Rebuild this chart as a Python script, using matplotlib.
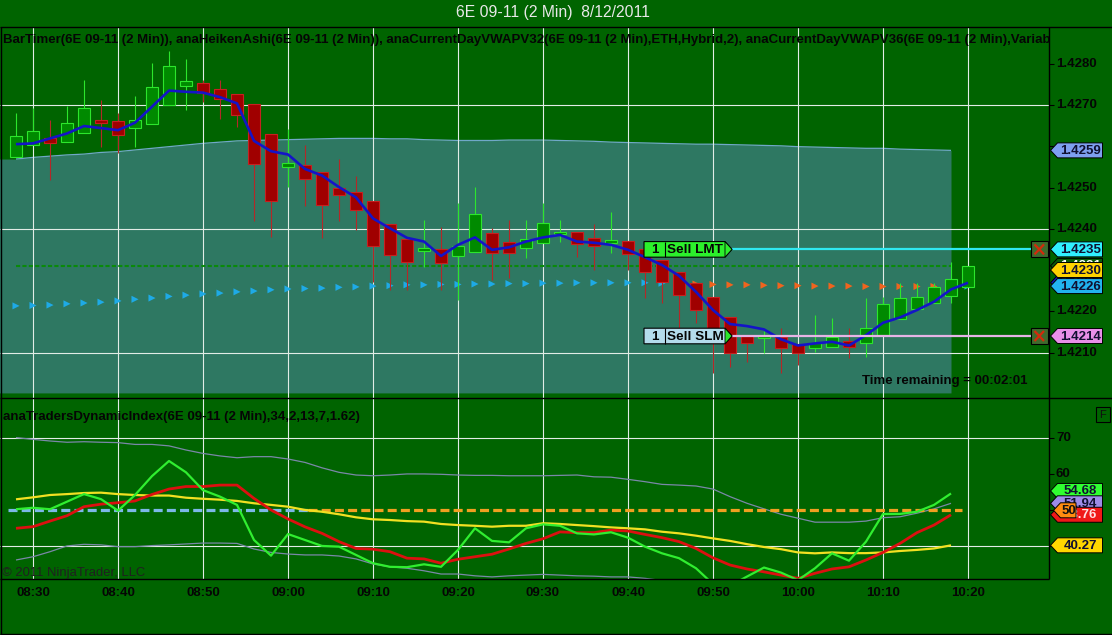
import matplotlib
matplotlib.use('Agg')
import matplotlib.pyplot as plt
from matplotlib.patches import Polygon, Rectangle
from matplotlib import font_manager
import numpy as np

plt.rcParams['lines.scale_dashes'] = False
plt.rcParams['lines.solid_capstyle'] = 'butt'

W, H = 1112, 635
BG = '#006400'

avail = {f.name for f in font_manager.fontManager.ttflist}
NARROW = 'Liberation Sans Narrow' in avail
FONT = ['Liberation Sans Narrow', 'Liberation Sans', 'DejaVu Sans'] if NARROW else ['Liberation Sans', 'DejaVu Sans']
FONT_REG = ['Liberation Sans', 'DejaVu Sans']
FS = 11.6 if NARROW else 9.5

# ---------------- data ----------------
bar_times = ['08:28', '08:30', '08:32', '08:34', '08:36', '08:38', '08:40', '08:42', '08:44', '08:46',
             '08:48', '08:50', '08:52', '08:54', '08:56', '08:58', '09:00', '09:02', '09:04', '09:06',
             '09:08', '09:10', '09:12', '09:14', '09:16', '09:18', '09:20', '09:22', '09:24', '09:26',
             '09:28', '09:30', '09:32', '09:34', '09:36', '09:38', '09:40', '09:42', '09:44', '09:46',
             '09:48', '09:50', '09:52', '09:54', '09:56', '09:58', '10:00', '10:02', '10:04', '10:06',
             '10:08', '10:10', '10:12', '10:14', '10:16', '10:18', '10:20']

ha_open = [1.42575, 1.42602, 1.42619, 1.42611, 1.42633, 1.42664, 1.42661, 1.42645, 1.42653, 1.42699,
           1.42745, 1.42754, 1.42740, 1.42726, 1.42702, 1.42629, 1.42549, 1.42554, 1.42537, 1.42498,
           1.42488, 1.42467, 1.42411, 1.42374, 1.42347, 1.42351, 1.42334, 1.42344, 1.42390, 1.42367,
           1.42353, 1.42365, 1.42387, 1.42391, 1.42377, 1.42366, 1.42370, 1.42351, 1.42324, 1.42296,
           1.42268, 1.42235, 1.42187, 1.42142, 1.42135, 1.42137, 1.42121, 1.42110, 1.42114, 1.42128,
           1.42122, 1.42142, 1.42181, 1.42205, 1.42219, 1.42238, 1.42258]
ha_close = [1.42626, 1.42637, 1.42607, 1.42656, 1.42692, 1.42657, 1.42627, 1.42664, 1.42743, 1.42795,
            1.42757, 1.42728, 1.42714, 1.42676, 1.42556, 1.42467, 1.42559, 1.42520, 1.42457, 1.42481,
            1.42445, 1.42357, 1.42336, 1.42320, 1.42353, 1.42316, 1.42358, 1.42435, 1.42342, 1.42341,
            1.42374, 1.42413, 1.42391, 1.42362, 1.42357, 1.42373, 1.42339, 1.42296, 1.42270, 1.42239,
            1.42203, 1.42142, 1.42100, 1.42124, 1.42140, 1.42110, 1.42098, 1.42122, 1.42138, 1.42114,
            1.42159, 1.42217, 1.42231, 1.42234, 1.42258, 1.42277, 1.42310]
ha_high = [1.42681, 1.42692, 1.42664, 1.42698, 1.42761, 1.42712, 1.42680, 1.42722, 1.42801, 1.42832,
           1.42812, 1.42761, 1.42761, 1.42726, 1.42702, 1.42629, 1.42641, 1.42603, 1.42537, 1.42570,
           1.42528, 1.42467, 1.42411, 1.42374, 1.42421, 1.42405, 1.42462, 1.42502, 1.42401, 1.42421,
           1.42421, 1.42462, 1.42421, 1.42391, 1.42412, 1.42441, 1.42370, 1.42351, 1.42324, 1.42296,
           1.42268, 1.42235, 1.42187, 1.42142, 1.42152, 1.42159, 1.42121, 1.42191, 1.42183, 1.42159,
           1.42231, 1.42235, 1.42268, 1.42269, 1.42269, 1.42320, 1.42310]
ha_low = [1.42575, 1.42602, 1.42518, 1.42611, 1.42633, 1.42599, 1.42583, 1.42599, 1.42653, 1.42699,
          1.42688, 1.42708, 1.42665, 1.42647, 1.42418, 1.42381, 1.42501, 1.42455, 1.42377, 1.42419,
          1.42397, 1.42272, 1.42252, 1.42252, 1.42308, 1.42252, 1.42227, 1.42344, 1.42276, 1.42280,
          1.42328, 1.42365, 1.42369, 1.42332, 1.42300, 1.42341, 1.42300, 1.42231, 1.42219, 1.42159,
          1.42171, 1.42050, 1.42066, 1.42078, 1.42100, 1.42050, 1.42070, 1.42102, 1.42114, 1.42086,
          1.42090, 1.42142, 1.42181, 1.42205, 1.42219, 1.42219, 1.42258]

trend_line = [1.42605, 1.42607, 1.42619, 1.42631, 1.42649, 1.42644, 1.42639, 1.42657, 1.42696, 1.42735,
              1.42732, 1.42730, 1.42719, 1.42704, 1.42613, 1.42588, 1.42580, 1.42545, 1.42529, 1.42501,
              1.42476, 1.42425, 1.42401, 1.42378, 1.42369, 1.42334, 1.42361, 1.42379, 1.42349, 1.42355,
              1.42369, 1.42379, 1.42385, 1.42369, 1.42366, 1.42361, 1.42349, 1.42331, 1.42312, 1.42286,
              1.42247, 1.42203, 1.42169, 1.42164, 1.42156, 1.42132, 1.42117, 1.42122, 1.42126, 1.42117,
              1.42142, 1.42172, 1.42185, 1.42203, 1.42223, 1.42253, 1.42269]

vwap = [1.42213, 1.42214, 1.42215, 1.42218, 1.42220, 1.42222, 1.42225, 1.42229, 1.42232, 1.42236,
        1.42239, 1.42242, 1.42244, 1.42247, 1.42249, 1.42252, 1.42254, 1.42255, 1.42256, 1.42258,
        1.42259, 1.42261, 1.42262, 1.42264, 1.42264, 1.42265, 1.42265, 1.42266, 1.42266, 1.42267,
        1.42267, 1.42268, 1.42268, 1.42269, 1.42269, 1.42269, 1.42269, 1.42269, 1.42268, 1.42267,
        1.42266, 1.42265, 1.42264, 1.42264, 1.42263, 1.42262, 1.42262, 1.42261, 1.42261, 1.42261,
        1.42260, 1.42260, 1.42260, 1.42260, 1.42260, 1.42261, 1.42261]

# VWAP upper band, bars -1 .. 55
vwap_upper_band = [1.42569, 1.42569, 1.42573, 1.42576, 1.42579, 1.42581, 1.42585, 1.42587, 1.42591, 1.42595,
                   1.42599, 1.42603, 1.42607, 1.42610, 1.42613, 1.42614, 1.42615, 1.42616, 1.42617, 1.42618,
                   1.42619, 1.42619, 1.42619, 1.42618, 1.42618, 1.42616, 1.42615, 1.42614, 1.42614, 1.42614,
                   1.42615, 1.42615, 1.42615, 1.42614, 1.42613, 1.42612, 1.42610, 1.42609, 1.42608, 1.42607,
                   1.42606, 1.42605, 1.42605, 1.42604, 1.42603, 1.42602, 1.42601, 1.42599, 1.42598, 1.42597,
                   1.42596, 1.42595, 1.42595, 1.42593, 1.42592, 1.42591, 1.42590]
vwap_lower_level = 1.42002
prior_level = 1.4231
last_price = 1.4230
sell_limit_price = 1.4235
sell_stop_price = 1.4214

price_ticks = [1.4210, 1.4220, 1.4230, 1.4240, 1.4250, 1.4260, 1.4270, 1.4280]
price_grid = [1.4210, 1.4240, 1.4270]

# Traders Dynamic Index, bars 0 .. 55
tdi_rsi = [50.3, 50.7, 50.3, 52.4, 54.5, 53.1, 49.9, 54.25, 59.5, 63.7,
           60.55, 55.6, 53.8, 51.5, 41.75, 37.4, 43.4, 41.75, 40.1, 39.9,
           37.6, 35.3, 34.3, 34.2, 35.0, 34.3, 39.0, 45.0, 41.5, 41.1,
           45.0, 46.1, 45.7, 43.6, 43.3, 43.9, 42.4, 39.9, 38.05, 36.7,
           33.9, 29.5, 29.0, 31.6, 34.1, 32.7, 30.6, 33.9, 38.05, 36.0,
           41.3, 48.97, 49.0, 49.6, 51.5, 54.68]
tdi_signal = [45.0, 45.45, 47.0, 48.5, 51.0, 51.7, 52.1, 52.6, 54.4, 55.9,
              56.6, 56.6, 57.0, 57.0, 53.3, 50.1, 47.6, 45.4, 43.6, 41.3,
              39.4, 39.2, 38.5, 36.7, 36.5, 35.3, 36.4, 37.1, 37.8, 39.25,
              40.8, 42.1, 44.0, 43.8, 43.8, 44.5, 44.25, 43.3, 42.4, 41.3,
              39.4, 36.8, 34.8, 33.7, 32.9, 32.0, 31.1, 32.5, 33.7, 34.3,
              36.2, 38.3, 40.8, 43.8, 45.9, 48.76]
tdi_base = [53.05, 53.6, 54.25, 54.5, 54.8, 54.9, 54.5, 54.25, 54.1, 54.1,
            53.5, 53.2, 52.95, 52.6, 51.95, 51.5, 51.0, 50.1, 49.6, 48.9,
            48.05, 47.5, 47.3, 47.0, 46.85, 46.2, 45.9, 45.7, 45.45, 45.7,
            45.7, 46.4, 46.2, 45.9, 45.6, 45.25, 45.0, 44.7, 44.05, 43.6,
            42.95, 42.2, 41.5, 40.6, 39.8, 39.2, 38.3, 38.05, 38.3, 38.1,
            38.1, 38.3, 38.7, 39.0, 39.4, 40.27]
tdi_upper = [70.2, 69.7, 69.25, 68.9, 69.05, 68.9, 68.8, 68.3, 68.3, 67.9,
             66.75, 65.8, 65.1, 64.6, 64.9, 64.9, 64.25, 63.3, 61.8, 60.55,
             59.8, 59.6, 59.8, 60.1, 60.1, 60.0, 59.8, 59.7, 59.7, 59.6,
             59.6, 59.6, 59.7, 59.8, 59.3, 59.2, 58.6, 57.95, 57.2, 57.0,
             56.75, 55.9, 53.8, 51.95, 50.4, 48.9, 47.8, 46.7, 46.7, 46.7,
             47.0, 47.95, 48.2, 49.2, 50.4, 51.94]
tdi_lower = [36.2, 37.1, 38.5, 40.1, 40.55, 40.4, 39.9, 39.9, 40.2, 40.4,
             40.65, 40.9, 40.9, 40.8, 39.25, 38.3, 37.85, 37.6, 37.6, 37.3,
             36.5, 35.1, 34.3, 33.9, 33.2, 32.3, 32.3, 31.8, 31.5, 31.8,
             32.0, 32.2, 32.0, 31.8, 31.7, 31.5, 31.5, 31.1, 30.5, 30.0,
             29.5, 28.8, 28.0, 27.4, 26.9, 26.5, 26.2, 26.0, 26.0, 26.1,
             26.4, 26.8, 27.3, 27.8, 28.3, 28.9]
tdi_mid = 50
tdi_ticks = [40, 50, 60, 70]
tdi_grid = [40, 70]

# ---------------- figure ----------------
fig = plt.figure(figsize=(W / 100, H / 100), dpi=100, facecolor=BG)
ax1 = fig.add_axes([0, 1 - 398 / H, 1049 / W, (398 - 27) / H])
ax2 = fig.add_axes([0, 1 - 579 / H, 1049 / W, (579 - 398) / H])
for ax in (ax1, ax2):
    ax.set_facecolor(BG)
    ax.set_xticks([])
    ax.set_yticks([])
    for s in ax.spines.values():
        s.set_visible(False)
    ax.set_xlim(-16 / 17, (1049 - 16) / 17)
ax1.set_ylim(1.4270 - 293 / 41250, 1.4270 + 78 / 41250)
ax2.set_ylim(70 - (579 - 438.3) / 3.6, 70 + (438.3 - 398) / 3.6)

n = len(bar_times)
xs = np.arange(n)
GRID = '#E2ECE6'
vgrid = [i for i, t in enumerate(bar_times) if t.endswith('0')]

# ---- upper panel ----
ax1.fill_between(np.arange(-1, len(vwap_upper_band) - 1), vwap_upper_band, vwap_lower_level,
                 color='#2E7862', lw=0, zorder=1)
ax1.plot(np.arange(0, len(vwap_upper_band) - 1), vwap_upper_band[1:], color='#70A8C8', lw=0.9, zorder=1.2)
for i in vgrid:
    ax1.axvline(i, color=GRID, lw=0.8, zorder=1.5)
    ax2.axvline(i, color=GRID, lw=0.8, zorder=1.5)
for v in price_grid:
    ax1.axhline(v, color=GRID, lw=0.8, zorder=1.5)
for v in tdi_grid:
    ax2.axhline(v, color=GRID, lw=0.8, zorder=1.5)

ax1.hlines(prior_level, 0, len(vwap_upper_band) - 2, color='#0A8A0A', lw=1.5,
           linestyles=[(0, (3.0, 1.6))], zorder=2)

tri_colors = ['#1EAAE6' if c >= v else '#F0641E' for c, v in zip(ha_close, vwap)]
ax1.scatter(xs, vwap, marker='>', s=26, c=tri_colors, lw=0, zorder=2.5)

for i in range(n):
    up = ha_close[i] >= ha_open[i]
    wick_c = '#2CE62C' if up else '#B42828'
    ax1.vlines(i, ha_low[i], ha_high[i], color=wick_c, lw=0.8, zorder=3)
for i in range(n):
    up = ha_close[i] >= ha_open[i]
    lo, hi = min(ha_open[i], ha_close[i]), max(ha_open[i], ha_close[i])
    ax1.bar(i, hi - lo, bottom=lo, width=0.74,
            color='#008A00' if up else '#A00000',
            edgecolor='#2CE62C' if up else '#C82020', lw=0.8, zorder=3.5)

ax1.plot(xs, trend_line, color='#1414C8', lw=1.9, zorder=4, solid_joinstyle='round')

# ---- lower panel ----
m = len(tdi_rsi)
xm = np.arange(m)
ax2.plot(xm, tdi_upper, color='#7A88A8', lw=0.9, zorder=2)
ax2.plot(xm, tdi_lower, color='#7A88A8', lw=0.9, zorder=2)
# mid line colour switches where the base line crosses 50
cross = None
for i in range(1, m):
    if (tdi_base[i - 1] - tdi_mid) * (tdi_base[i] - tdi_mid) <= 0:
        cross = i - 1 + (tdi_base[i - 1] - tdi_mid) / (tdi_base[i - 1] - tdi_base[i])
        break
ax2.hlines(tdi_mid, -0.45, cross, color='#7CB8E8', lw=2.3, linestyles=[(0, (6.5, 3.0))], zorder=2.5)
ax2.hlines(tdi_mid, cross, m - 0.35, color='#F0A020', lw=2.3, linestyles=[(0, (6.5, 3.0))], zorder=2.5)
ax2.plot(xm, tdi_base, color='#F2E022', lw=1.6, zorder=3)
ax2.plot(xm, tdi_signal, color='#DC1010', lw=2.0, zorder=3.2)
ax2.plot(xm, tdi_rsi, color='#30EE30', lw=1.6, zorder=3.4)

# ---------------- overlay (pixel coords) ----------------
ov = fig.add_axes([0, 0, 1, 1], zorder=10)
ov.set_xlim(0, W)
ov.set_ylim(H, 0)
ov.set_axis_off()
ov.patch.set_alpha(0)


def py(ax, v):
    return H - ax.transData.transform((0, v))[1]


def pxx(ax, i):
    return ax.transData.transform((i, 0))[0]


K = 'black'
ov.plot([0, W], [27, 27], color=K, lw=1)
ov.plot([0, W], [398, 398], color=K, lw=1)
ov.plot([0, 1049], [579, 579], color=K, lw=1)
ov.plot([0, W], [633.5, 633.5], color=K, lw=1)
ov.plot([0.5, 0.5], [27, 634], color=K, lw=1)
ov.plot([1049, 1049], [27, 579], color=K, lw=1)

txt = dict(family=FONT, fontsize=FS, fontweight='bold', color='#050505', va='center')

ov.text(553, 13, '6E 09-11 (2 Min)  8/12/2011', family=FONT_REG, fontsize=11.3, color='#E8E8E8',
        ha='center', va='center')
t1 = ov.text(3, 40, 'BarTimer(6E 09-11 (2 Min)), anaHeikenAshi(6E 09-11 (2 Min)), '
             'anaCurrentDayVWAPV32(6E 09-11 (2 Min),ETH,Hybrid,2), '
             'anaCurrentDayVWAPV36(6E 09-11 (2 Min),Variable', ha='left', **txt)
t1.set_clip_box(ax1.bbox)
t1.set_clip_on(True)
ov.text(3, 417, 'anaTradersDynamicIndex(6E 09-11 (2 Min),34,2,13,7,1.62)', ha='left', **txt)
ov.text(2, 573, '\u00a9 2011 NinjaTrader, LLC', family=FONT, fontsize=9.4, color='#202020',
        ha='left', va='center')
ov.text(862, 381, 'Time remaining = 00:02:01', ha='left', **txt)

for i in vgrid:
    ov.text(pxx(ax1, i), 593, bar_times[i], ha='center', **txt)

# right-side markers (values drawn on the price / indicator scales)
upper_markers = [
    (vwap_upper_band[-1], f'{vwap_upper_band[-1]:.4f}', '#7EA0F0', '#101030', 0),
    (prior_level, f'{prior_level:.4f}', '#0A5A0A', 'white', 0),
    (sell_limit_price, f'{sell_limit_price:.4f}', '#30F0FF', '#101030', 0),
    (trend_line[-1], f'{trend_line[-1]:.4f}', '#1414C0', 'white', 0),
    (last_price, f'{last_price:.4f}', '#FFD200', '#101030', 0),
    (vwap[-1], f'{vwap[-1]:.4f}', '#22B4F0', '#101030', 0),
    (sell_stop_price, f'{sell_stop_price:.4f}', '#E890E8', '#101030', 0),
]
lower_markers = [
    (tdi_rsi[-1], f'{tdi_rsi[-1]:.2f}', '#30FF30', '#101030', -2.5),
    (tdi_upper[-1], f'{tdi_upper[-1]:.2f}', '#9C8CE8', '#101030', 0),
    (tdi_signal[-1], f'{tdi_signal[-1]:.2f}', '#F01818', '#FFE0E0', 0),
    (tdi_mid, f'{tdi_mid}', '#FF8C10', '#101010', 0),
    (tdi_base[-1], f'{tdi_base[-1]:.2f}', '#FFD700', '#101030', 0),
]
up_marker_y = [py(ax1, v) + d for v, _, _, _, d in upper_markers]
lo_marker_y = [py(ax2, v) + d for v, _, _, _, d in lower_markers]

for v in price_ticks:
    y = py(ax1, v)
    ov.plot([1049, 1054], [y, y], color=K, lw=0.8, zorder=3)
    if min(abs(y - my) for my in up_marker_y) > 9:
        ov.text(1056, y, f'{v:.4f}', ha='left', zorder=4, **txt)
for v in tdi_ticks:
    y = py(ax2, v)
    ov.plot([1049, 1054], [y, y], color=K, lw=0.8, zorder=3)
    if min(abs(y - my) for my in lo_marker_y) > 9:
        ov.text(1056, y, f'{v}', ha='left', zorder=4, **txt)

zc = [20]


def marker(y, text, fc, tc='#101030', x0=1050.5, x1=1102.5, h=15):
    z = zc[0]
    zc[0] += 1
    poly = [(x0, y), (x0 + 7, y - h / 2), (x1, y - h / 2), (x1, y + h / 2), (x0 + 7, y + h / 2)]
    ov.add_patch(Polygon(poly, closed=True, fc=fc, ec='black', lw=0.7, zorder=z))
    ov.text((x0 + 7 + x1) / 2 + 0.5, y + 0.5, text, ha='center', va='center', family=FONT,
            fontsize=FS, fontweight='bold', color=tc, zorder=z + 0.5)


for (v, s, fc, tc, d), y in zip(upper_markers, up_marker_y):
    marker(y, s, fc, tc)
for (v, s, fc, tc, d), y in zip(lower_markers, lo_marker_y):
    if v == tdi_mid:
        marker(y, s, fc, tc, x0=1053.5, x1=1076)
    else:
        marker(y, s, fc, tc)

# "F" box
ov.add_patch(Rectangle((1096, 407), 14, 15, fc='none', ec='black', lw=0.8))
ov.text(1103, 414.5, 'F', ha='center', va='center', family=FONT, fontsize=FS - 1.5, color='#101010')


def order(price, qty, label, fc, tipfc, linec):
    y = py(ax1, price)
    h = 15.6
    top, bot = y - h / 2, y + h / 2
    ov.add_patch(Polygon([(644, top), (725, top), (732, y), (725, bot), (644, bot)], closed=True,
                         fc=fc, ec='black', lw=0.8, zorder=5))
    ov.add_patch(Polygon([(725, top), (732, y), (725, bot)], closed=True, fc=tipfc, ec='black',
                         lw=0.6, zorder=5))
    ov.plot([665, 665], [top, bot], color='black', lw=0.8, zorder=6)
    ov.text(654.5, y + 0.5, qty, ha='center', va='center', family=FONT, fontsize=FS + 0.2,
            fontweight='bold', color='#050505', zorder=6)
    ov.text(695, y + 0.5, label, ha='center', va='center', family=FONT, fontsize=FS + 0.2,
            fontweight='bold', color='#050505', zorder=6)
    ov.plot([732, 1031], [y, y], color=linec, lw=1.6, zorder=4)
    ov.add_patch(Rectangle((1031, y - 8), 16.5, 16, fc='#3F6B2E', ec='black', lw=0.8, zorder=5))
    ov.plot([1034.5, 1044], [y - 5, y + 5], color='#D42A0A', lw=1.6, zorder=6)
    ov.plot([1034.5, 1044], [y + 5, y - 5], color='#D42A0A', lw=1.6, zorder=6)


order(sell_limit_price, '1', 'Sell LMT', '#2CF02C', '#2CF02C', '#30E8F0')
order(sell_stop_price, '1', 'Sell SLM', '#B4DCEC', '#2CE62C', '#E6B4E6')

fig.savefig('out.png', dpi=100, facecolor=BG)
